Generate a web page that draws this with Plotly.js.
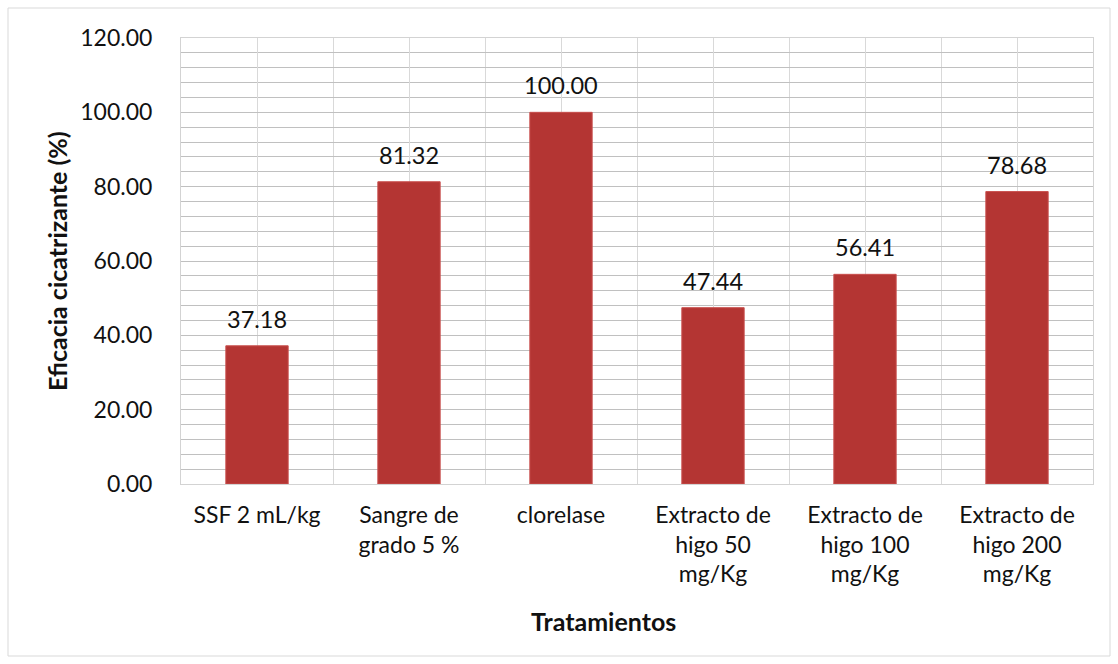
<!DOCTYPE html>
<html>
<head>
<meta charset="utf-8">
<script src="https://cdn.plot.ly/plotly-3.0.1.min.js"></script>
<style>
  html, body { margin: 0; padding: 0; background: #fff; }
  #chart { width: 1118px; height: 664px; }
</style>
</head>
<body>
<div id="chart"></div>
<script>
const categories = [
  "SSF 2 mL/kg",
  "Sangre de<br>grado 5 %",
  "clorelase",
  "Extracto de<br>higo 50<br>mg/Kg",
  "Extracto de<br>higo 100<br>mg/Kg",
  "Extracto de<br>higo 200<br>mg/Kg"
];
const values = [37.18, 81.32, 100.00, 47.44, 56.41, 78.68];
const valueLabels = ["37.18", "81.32", "100.00", "47.44", "56.41", "78.68"];
const yTitle = "Eficacia cicatrizante (%)";
const xTitle = "Tratamientos";

const FONT = "Lato, 'Open Sans', sans-serif";
const positions = categories.map((_, i) => i);
const boundaries = categories.map((_, i) => i - 0.5).concat([categories.length - 0.5]);

const trace = {
  type: "bar",
  x: positions,
  y: values,
  width: 0.41,
  marker: {
    color: "#b43533",
    line: { color: "#c9504e", width: 1 }
  },
  hoverinfo: "skip"
};

const annotations = values.map((v, i) => ({
  x: i, y: v, xref: "x", yref: "y",
  text: valueLabels[i],
  showarrow: false,
  yanchor: "bottom",
  yshift: 11,
  font: { family: FONT, size: 23.5, color: "#111" }
}));

annotations.push({
  xref: "paper", yref: "paper",
  x: (603 - 181) / 912, y: (484 - 621) / 446,
  xanchor: "center", yanchor: "middle",
  text: "<b>" + xTitle + "</b>",
  showarrow: false,
  font: { family: FONT, size: 25, color: "#111" }
});
annotations.push({
  xref: "paper", yref: "paper",
  x: (57 - 181) / 912, y: 0.5,
  xanchor: "center", yanchor: "middle",
  text: "<b>" + yTitle + "</b>",
  textangle: -90,
  showarrow: false,
  font: { family: FONT, size: 25, color: "#111" }
});

const layout = {
  width: 1118, height: 664,
  margin: { l: 181, r: 25, t: 38, b: 180 },
  paper_bgcolor: "#ffffff",
  plot_bgcolor: "#ffffff",
  showlegend: false,
  font: { family: FONT, size: 23, color: "#111" },
  xaxis: {
    range: [-0.5, categories.length - 0.5],
    tickmode: "array",
    tickvals: positions,
    ticktext: categories,
    ticks: "",
    showgrid: true,
    gridcolor: "#d9d9d9",
    gridwidth: 1,
    minor: { tickmode: "array", tickvals: boundaries, showgrid: true, gridcolor: "#d9d9d9", gridwidth: 1, ticks: "" },
    showline: true, mirror: true, linecolor: "#d3d3d3", linewidth: 1,
    zeroline: false,
    tickfont: { family: FONT, size: 23, color: "#111" },
    ticklabelstandoff: 10,
    fixedrange: true
  },
  yaxis: {
    range: [0, 120],
    dtick: 20,
    tick0: 0,
    tickformat: ".2f",
    ticks: "",
    showgrid: true,
    gridcolor: "#c0c0c0",
    gridwidth: 1,
    minor: { dtick: 4, tick0: 0, showgrid: true, gridcolor: "#c0c0c0", gridwidth: 1, ticks: "" },
    showline: true, mirror: true, linecolor: "#d3d3d3", linewidth: 1,
    zeroline: false,
    tickfont: { family: FONT, size: 23, color: "#111" },
    ticklabelstandoff: 23,
    fixedrange: true
  },
  annotations: annotations,
  shapes: [{
    type: "rect", xref: "paper", yref: "paper", layer: "below",
    x0: (8 - 181) / 912, x1: (1110 - 181) / 912,
    y0: (484 - 656) / 446, y1: (484 - 8) / 446,
    line: { color: "#d9d9d9", width: 1 },
    fillcolor: "rgba(0,0,0,0)"
  }]
};

Plotly.newPlot("chart", [trace], layout, { displayModeBar: false, staticPlot: true });
</script>
</body>
</html>
